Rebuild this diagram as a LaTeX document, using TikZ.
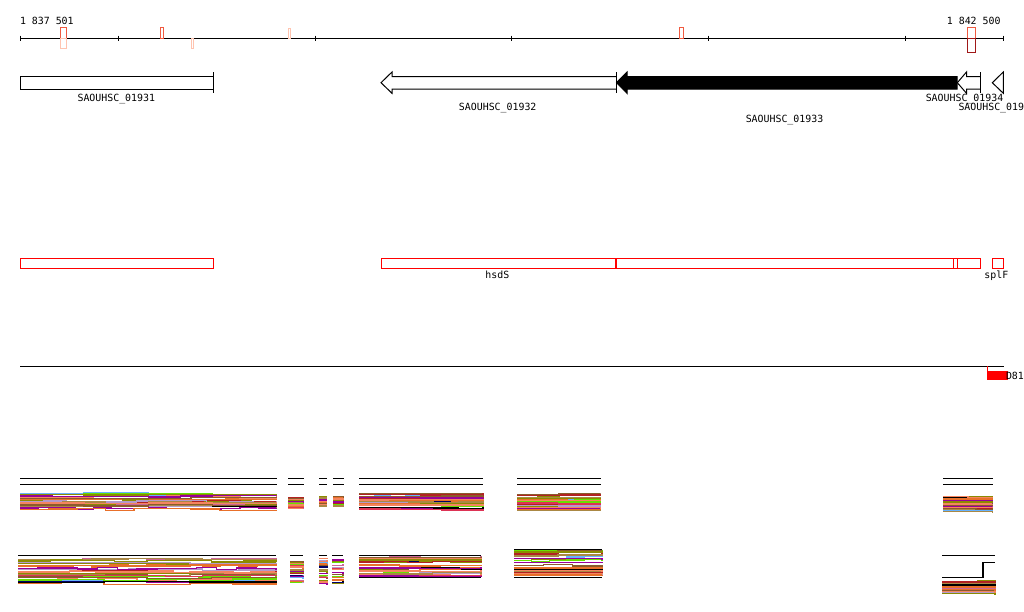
\documentclass[tikz,border=0pt]{standalone}
\usepackage{fontspec}
\setmonofont{DejaVu Sans Mono}

\definecolor{olv}{HTML}{8B8B00}
\definecolor{org}{HTML}{E8702A}
\definecolor{grn}{HTML}{66E000}
\definecolor{brk}{HTML}{B22222}
\definecolor{pur}{HTML}{990099}
\definecolor{sky}{HTML}{66B2FF}
\definecolor{nvy}{HTML}{000066}
\definecolor{sal}{HTML}{F4845F}
\definecolor{lav}{HTML}{B399CC}
\definecolor{brn}{HTML}{8B5A2B}
\definecolor{pnk}{HTML}{CC6699}
\definecolor{tn}{HTML}{AA8844}
\definecolor{rse}{HTML}{DD3355}
\definecolor{mkc}{HTML}{F05A40}
\definecolor{mkl}{HTML}{FFC4B0}
\definecolor{mkd}{HTML}{A01818}

% a bundle of stepped coloured strands: x from, x to, y top, y bottom
\newcommand{\strands}[4]{%
  \foreach \col in {olv,org,grn,brk,pur,sky,nvy,sal,lav,brn,pnk,tn,rse,black,olv,org,sal,brk,grn,lav,org,brn,tn,pur,olv,sal}{
    \pgfmathsetmacro{\yy}{#3+rnd*(#4-#3)}
    \pgfmathtruncatemacro{\nn}{max(1,(#2-#1)/(14+60*rnd))}
    \draw[\col,strand] (#1,\yy)
      \foreach \k in {1,...,\nn}{ -| ({#1+\k*(#2-#1)/\nn},{\yy+1.2*rand}) };
  }}

\begin{document}
\begin{tikzpicture}[x=1pt,y=-1pt,line width=1pt,
    font=\ttfamily\fontsize{9.9}{11}\selectfont,
    gene/.style={draw=black,fill=white},
    feat/.style={draw=red},
    lab/.style={anchor=base,inner sep=0pt},
    strand/.style={line width=1.4pt},
    trk/.style={line width=1.3pt}]
  \useasboundingbox (0,0) rectangle (1024,611);
  \pgfmathsetseed{11}

  % ruler
  \draw (20,38) -- (1003.5,38);
  \foreach \x in {20.5,118.3,315.3,511.3,708.7,905.7,1003.3}
    \draw (\x,35.5) -- (\x,41);
  \node[lab,anchor=base west] (start) at (19.5,24) {1 837 501};
  \node[lab,anchor=base east] (stop) at (1001,24) {1 842 500};
  \draw[mkc] (60.5,27.5) rectangle (66.5,38);
  \draw[mkl] (60.5,38) rectangle (66.5,48.5);
  \draw[mkc] (160.5,27.5) rectangle (163.5,38);
  \draw[mkl] (191.5,38) rectangle (193.5,48.5);
  \draw[mkl] (288.5,28.5) rectangle (290.5,38);
  \draw[mkc] (679.5,27.5) rectangle (683.5,38);
  \draw[mkc] (967.5,27.5) rectangle (975.3,38);
  \draw[mkd] (967.5,38) rectangle (975.3,52.3);

  % genes
  \draw[gene] (20.5,76.5) rectangle (213,89);
  \draw (213,72) -- (213,93);
  \draw[gene] (616,76.5) -- (392,76.5) -- (392,72) -- (381,82.7) -- (392,93.3)
    -- (392,89) -- (616,89);
  \draw (616,72) -- (616,93);
  \draw[fill=black] (957,76.5) -- (627,76.5) -- (627,72) -- (616.5,82.7)
    -- (627,93.3) -- (627,89) -- (957,89) -- cycle;
  \draw[gene] (980.7,76.5) -- (966.5,76.5) -- (966.5,72) -- (957.3,82.7)
    -- (966.5,93.3) -- (966.5,89) -- (980.7,89);
  \draw (980.7,72) -- (980.7,93);
  \draw[gene] (1003.3,72) -- (992.3,82.7) -- (1003.3,93.3) -- cycle;
  \node[lab] (g31) at (116.3,101) {SAOUHSC\_01931};
  \node[lab] (g32) at (497.7,110) {SAOUHSC\_01932};
  \node[lab] (g33) at (784.5,122) {SAOUHSC\_01933};
  \node[lab] (g34) at (964.5,101) {SAOUHSC\_01934};
  \node[lab,anchor=base west] (g35) at (958,110) {SAOUHSC\_019};

  % features
  \draw[feat] (20.5,258.5) rectangle (213,268.5);
  \draw[feat] (381,258.5) rectangle (980.7,268.5);
  \draw[red,line width=2pt] (615.7,258.5) -- (615.7,268.5);
  \draw[red] (953.3,258.5) -- (953.3,268.5) (957.3,258.5) -- (957.3,268.5);
  \draw[feat] (992.3,258.5) rectangle (1003.5,268.5);
  \node[lab] (hsds) at (497.4,278.5) {hsdS};
  \node[lab] (splf) at (996.3,278.5) {splF};

  % coverage
  \draw (20,366) -- (1003.7,366);
  \draw[red] (987,366) -- (987,371);
  \fill[red] (987,371) rectangle (1007.7,379.5);
  \node[lab,anchor=base west] (d81) at (1005.5,379) {D81};

  % alignments
  \foreach \a/\b in {20/276.7,288/303.7,319/326.7,333/343.7,359/483,517/600.7,943/992.7}
    \draw[trk] (\a,478.3) -- (\b,478.3) (\a,484.3) -- (\b,484.3);
  \strands{20}{276.7}{494}{510}
  \strands{288}{303.7}{498}{509}
  \strands{319}{326.7}{496}{507}
  \strands{333}{343.7}{496}{507}
  \strands{359}{483}{494}{509}
  \strands{517}{600.7}{494}{510}
  \strands{943}{992.7}{494}{513}

  \foreach \a/\b in {18/276,290/303,319/327,332/343,359/481,942/995}
    \draw[trk] (\a,555.3) -- (\b,555.3);
  \draw[trk] (514,550) -- (602,550);
  \strands{18}{276}{557}{584}
  \strands{290}{303}{558}{584}
  \strands{319}{327}{558}{584}
  \strands{332}{343}{558}{584}
  \strands{359}{481}{557}{576}
  \strands{514}{602}{551}{576}
  \strands{942}{995}{579}{594}
  \foreach \a/\b in {359/481,514/602}
    \draw[trk] (\a,577.3) -- (\b,577.3);
  \draw[trk] (942,577.3) -- (983,577.3) -- (983,562.3) -- (995,562.3);
\end{tikzpicture}
\end{document}
